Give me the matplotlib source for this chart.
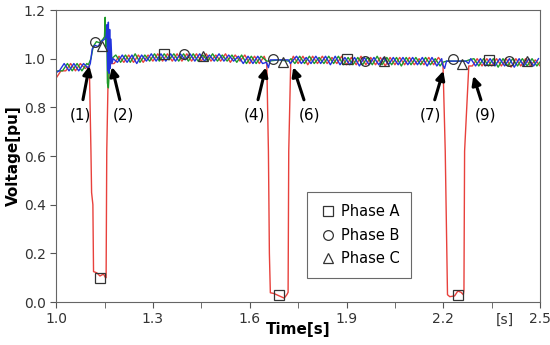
import numpy as np
import matplotlib.pyplot as plt

# Ripple samples of each phase voltage, one value every half cycle (0.015 s)
ripple_a = [0.92, 0.95, 0.95, 0.98, 0.95, 0.98, 0.96, 0.98, 0.96, 0.99,
            0.97, 1.0, 0.98, 1.01, 0.985, 1.015, 0.985, 1.015, 0.985, 1.015,
            0.99, 1.02, 0.99, 1.02, 0.99, 1.02, 0.99, 1.02, 0.99, 1.02,
            0.99, 1.02, 0.99, 1.015, 0.99, 1.02, 0.985, 1.015, 0.99, 1.015,
            0.98, 1.01, 0.98, 1.01, 0.975, 1.01, 0.98, 1.01, 0.98, 1.01,
            0.98, 1.01, 0.975, 1.01, 0.98, 1.01, 0.98, 1.005, 0.98, 1.01,
            0.975, 1.005, 0.975, 1.01, 0.975, 1.005, 0.975, 1.005, 0.97, 1.005,
            0.975, 1.005, 0.975, 1.005, 0.975, 1.0, 0.975, 1.005, 0.975, 1.005,
            0.97, 1.0, 0.97, 1.0, 0.97, 1.0, 0.97, 1.0, 0.97, 1.0,
            0.97, 1.0, 0.97, 1.0, 0.965, 1.0, 0.97, 1.0, 0.97, 0.995, 0.97, 1.0]
ripple_b = [0.93, 0.95, 0.95, 0.98, 0.95, 0.98, 0.95, 0.98, 0.96, 0.98,
            0.98, 1.0, 0.98, 1.015, 0.985, 1.015, 0.985, 1.02, 0.985, 1.015,
            0.99, 1.02, 0.99, 1.02, 0.995, 1.02, 0.99, 1.02, 0.99, 1.02,
            0.99, 1.015, 0.99, 1.02, 0.99, 1.015, 0.99, 1.015, 0.985, 1.015,
            0.98, 1.01, 0.98, 1.01, 0.98, 1.01, 0.98, 1.01, 0.975, 1.01,
            0.98, 1.01, 0.98, 1.01, 0.98, 1.005, 0.98, 1.01, 0.98, 1.01,
            0.975, 1.005, 0.975, 1.005, 0.975, 1.005, 0.975, 1.01, 0.975, 1.005,
            0.975, 1.005, 0.97, 1.005, 0.975, 1.005, 0.975, 1.005, 0.975, 1.0,
            0.97, 1.0, 0.97, 1.0, 0.97, 1.0, 0.97, 1.0, 0.97, 1.0,
            0.97, 1.0, 0.965, 1.0, 0.97, 1.0, 0.97, 1.0, 0.97, 1.0, 0.97, 0.995]
ripple_c = [0.93, 0.94, 0.95, 0.98, 0.95, 0.98, 0.95, 0.98, 0.95, 0.98,
            0.97, 1.0, 0.98, 1.01, 0.985, 1.015, 0.985, 1.015, 0.98, 1.015,
            0.99, 1.02, 0.99, 1.02, 0.99, 1.02, 0.99, 1.02, 0.995, 1.02,
            0.99, 1.02, 0.99, 1.015, 0.99, 1.02, 0.99, 1.015, 0.99, 1.01,
            0.98, 1.01, 0.98, 1.01, 0.98, 1.01, 0.975, 1.01, 0.98, 1.01,
            0.98, 1.01, 0.98, 1.005, 0.98, 1.01, 0.98, 1.01, 0.975, 1.01,
            0.975, 1.005, 0.975, 1.005, 0.97, 1.005, 0.975, 1.005, 0.975, 1.005,
            0.975, 1.005, 0.975, 1.005, 0.975, 1.005, 0.975, 1.005, 0.97, 1.005,
            0.97, 1.0, 0.97, 1.0, 0.97, 1.0, 0.97, 1.0, 0.97, 1.0,
            0.97, 1.0, 0.97, 1.0, 0.97, 1.0, 0.965, 1.0, 0.97, 1.0, 0.97, 1.0]

# time windows where the ripple is replaced by the event traces
drop_a = [(1.100, 1.165), (1.650, 1.730), (2.196, 2.282)]
drop_bc = [(1.098, 1.178), (1.650, 1.730), (2.196, 2.282)]

# Phase A sags (time, pu)
event_a = [(1.103, 0.97), (1.108, 0.62), (1.110, 0.45), (1.114, 0.40), (1.116, 0.125),
           (1.126, 0.12), (1.136, 0.107), (1.147, 0.115), (1.153, 0.10), (1.155, 0.10),
           (1.157, 0.62), (1.162, 0.98),
           (1.653, 0.98), (1.658, 0.62), (1.661, 0.20), (1.664, 0.038), (1.675, 0.035),
           (1.690, 0.026), (1.707, 0.016), (1.715, 0.03), (1.719, 0.04), (1.721, 0.62),
           (1.727, 0.98),
           (2.199, 0.98), (2.206, 0.62), (2.213, 0.03), (2.220, 0.022), (2.235, 0.025),
           (2.245, 0.045), (2.255, 0.04), (2.262, 0.03), (2.264, 0.05), (2.266, 0.62),
           (2.279, 0.97)]
# Phase B swell and flat parts
event_b = [(1.100, 0.975), (1.108, 1.0), (1.115, 1.05), (1.125, 1.07), (1.135, 1.065),
           (1.145, 1.08), (1.150, 1.09), (1.152, 1.17), (1.154, 1.05), (1.157, 1.12),
           (1.159, 0.90), (1.162, 0.88), (1.166, 0.97), (1.172, 1.0),
           (1.653, 0.99), (1.660, 0.99), (1.690, 0.995), (1.720, 0.99), (1.728, 1.0),
           (2.198, 0.985), (2.210, 0.99), (2.270, 0.99), (2.280, 0.995)]
# Phase C swell and flat parts
event_c = [(1.100, 0.96), (1.106, 0.98), (1.112, 1.04), (1.120, 1.055), (1.130, 1.05),
           (1.140, 1.07), (1.150, 1.08), (1.155, 1.09), (1.158, 1.14), (1.160, 0.95),
           (1.162, 1.15), (1.164, 0.94), (1.166, 1.12), (1.168, 0.96), (1.170, 1.08),
           (1.173, 0.98), (1.177, 1.0),
           (1.652, 0.985), (1.658, 0.963), (1.664, 0.995), (1.720, 0.995), (1.726, 0.98),
           (2.198, 0.975), (2.204, 0.96), (2.210, 0.99), (2.270, 0.99), (2.278, 0.98)]

# marker positions
mark_a_t = [1.137, 1.335, 1.692, 1.901, 2.247, 2.342]
mark_a_v = [0.10, 1.02, 0.03, 1.0, 0.03, 0.995]
mark_b_t = [1.121, 1.395, 1.673, 1.957, 2.231, 2.404]
mark_b_v = [1.068, 1.018, 0.998, 0.99, 0.998, 0.99]
mark_c_t = [1.142, 1.455, 1.704, 2.016, 2.257, 2.459]
mark_c_v = [1.053, 1.01, 0.985, 0.99, 0.98, 0.99]

# event labels: (label, arrow tip, text position)
labels = [('(1)', (1.103, 0.970), (1.074, 0.767)),
          ('(2)', (1.173, 0.966), (1.209, 0.767)),
          ('(4)', (1.650, 0.964), (1.614, 0.767)),
          ('(6)', (1.735, 0.965), (1.784, 0.767)),
          ('(7)', (2.200, 0.950), (2.159, 0.767)),
          ('(9)', (2.293, 0.929), (2.332, 0.767))]


def build(offset, ripple, windows, events):
    t = 0.98 + offset + 0.015 * np.arange(len(ripple))
    v = np.array(ripple)
    keep = np.ones(len(t), dtype=bool)
    for lo, hi in windows:
        keep &= ~((t >= lo) & (t <= hi))
    tt = np.concatenate([t[keep], [p[0] for p in events]])
    vv = np.concatenate([v[keep], [p[1] for p in events]])
    order = np.argsort(tt)
    return tt[order], vv[order]


ta, va = build(0.02, ripple_a, drop_a, event_a)
tb, vb = build(0.01, ripple_b, drop_bc, event_b)
tc, vc = build(0.0, ripple_c, drop_bc, event_c)

fig = plt.figure(figsize=(5.5, 3.45), dpi=100)
ax = fig.add_axes([0.102, 0.1246, 0.880, 0.8464])

ax.plot(ta, va, color='#e8413c', lw=1.0)
ax.plot(tb, vb, color='#1e9a2a', lw=1.0)
ax.plot(tc, vc, color='#2233dd', lw=1.0)

mk = dict(ls='none', mfc='none', mec='#333333', mew=0.9, ms=7, zorder=5)
ax.plot(mark_a_t, mark_a_v, marker='s', label='Phase A', **mk)
ax.plot(mark_b_t, mark_b_v, marker='o', label='Phase B', **mk)
ax.plot(mark_c_t, mark_c_v, marker='^', label='Phase C', **mk)

for txt, tip, pos in labels:
    ax.annotate(txt, xy=tip, xytext=pos, ha='center', va='center', fontsize=11,
                arrowprops=dict(arrowstyle='-|>', color='black', lw=2.2,
                                mutation_scale=13, shrinkA=4, shrinkB=0))

ax.set_xlim(1.0, 2.5)
ax.set_ylim(0.0, 1.2)
ax.set_xticks([1.0, 1.3, 1.6, 1.9, 2.2, 2.5])
ax.set_xticks([1.15, 1.45, 1.75, 2.05, 2.35], minor=True)
ax.set_yticks([0.0, 0.2, 0.4, 0.6, 0.8, 1.0, 1.2])
ax.set_xticklabels(['1.0', '1.3', '1.6', '1.9', '2.2', '2.5'])
ax.tick_params(which='both', direction='out', length=4, color='#555555',
               labelsize=10, labelcolor='#333333')
ax.text(2.39, -0.036, '[s]', transform=ax.get_xaxis_transform(), ha='center',
        va='top', fontsize=10, color='#333333')
for s in ax.spines.values():
    s.set_color('#666666')

ax.set_xlabel('Time[s]', fontsize=11, fontweight='bold')
ax.set_ylabel('Voltage[pu]', fontsize=11, fontweight='bold')
ax.xaxis.set_label_coords(0.5, -0.068)
ax.yaxis.set_label_coords(-0.072, 0.5)

leg = ax.legend(loc='lower left', bbox_to_anchor=(0.519, 0.082), borderaxespad=0,
                fontsize=10.5, frameon=True, fancybox=False, handletextpad=0.3,
                handlelength=1.2, labelspacing=0.6, borderpad=0.8)
leg.get_frame().set_edgecolor('#444444')
leg.get_frame().set_linewidth(0.8)

fig.savefig('out.png', dpi=100)
